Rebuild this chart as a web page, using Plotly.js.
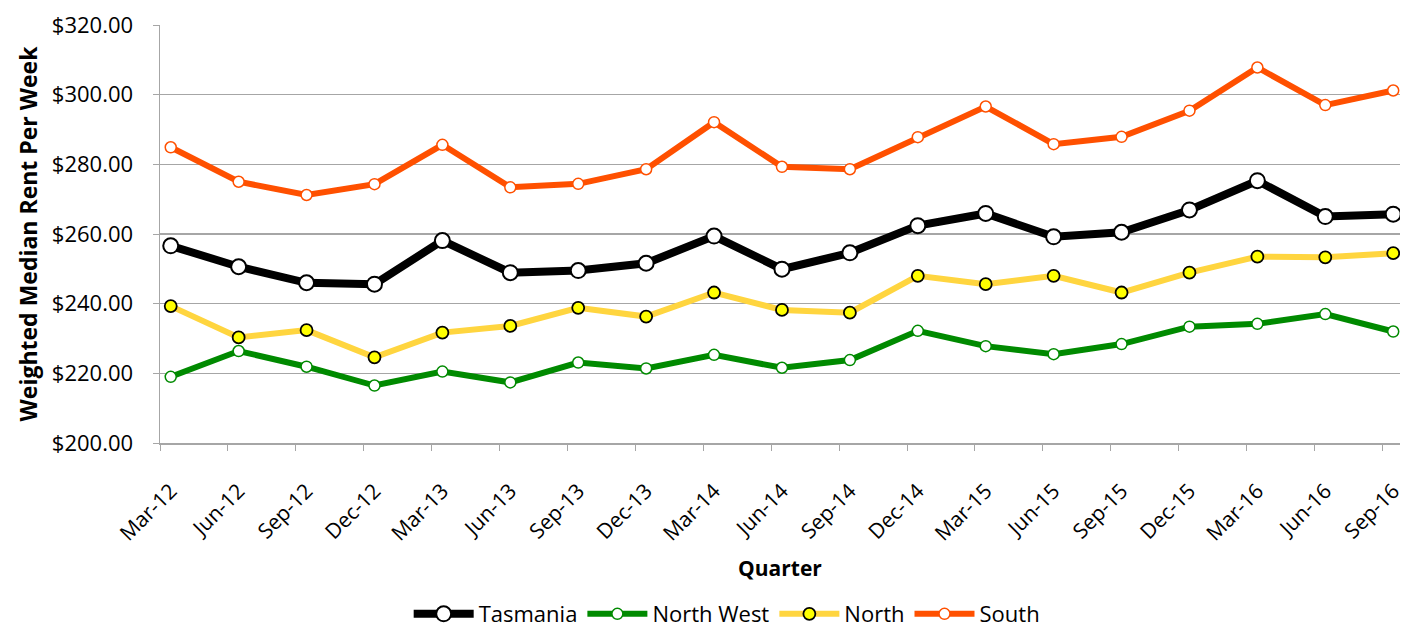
<!DOCTYPE html>
<html><head><meta charset="utf-8">
<script src="https://cdn.plot.ly/plotly-3.0.1.min.js"></script>
<style>html,body{margin:0;padding:0;background:#fff}#chart{width:1403px;height:635px}</style>
</head><body><div id="chart"></div>
<script>
const quarters = ["Mar-12","Jun-12","Sep-12","Dec-12","Mar-13","Jun-13","Sep-13","Dec-13","Mar-14","Jun-14","Sep-14","Dec-14","Mar-15","Jun-15","Sep-15","Dec-15","Mar-16","Jun-16","Sep-16"];
const tasmania = [256.6,250.6,246.0,245.6,258.1,248.9,249.5,251.6,259.4,249.9,254.6,262.4,265.9,259.2,260.5,266.9,275.3,265.0,265.7];
const northWest = [219.0,226.4,221.9,216.5,220.5,217.4,223.1,221.4,225.3,221.6,223.8,232.2,227.8,225.5,228.4,233.4,234.2,237.0,232.0];
const north = [239.3,230.3,232.4,224.6,231.7,233.6,238.8,236.3,243.2,238.2,237.4,248.0,245.6,248.0,243.2,248.9,253.5,253.3,254.5];
const south = [284.9,275.0,271.2,274.3,285.6,273.4,274.4,278.6,292.1,279.3,278.6,287.8,296.6,285.8,287.9,295.4,307.8,297.0,301.2];
const yTicks = [200,220,240,260,280,300,320];

const idx = quarters.map((q,i)=>i);
const font = "Open Sans";

const traces = [
  {name:"Tasmania", y:tasmania, line:{color:"#000000",width:8}, marker:{size:15,color:"#ffffff",line:{color:"#000000",width:2}}},
  {name:"North West", y:northWest, line:{color:"#008A00",width:6}, marker:{size:11,color:"#ffffff",line:{color:"#008A00",width:1.5}}},
  {name:"North", y:north, line:{color:"#FFD53F",width:6}, marker:{size:12,color:"#FFFF00",line:{color:"#000000",width:1.8}}},
  {name:"South", y:south, line:{color:"#FF5000",width:6}, marker:{size:11,color:"#ffffff",line:{color:"#FF5000",width:1.5}}}
].map(t=>Object.assign({x:idx, type:"scatter", mode:"lines+markers"}, t));

const layout = {
  width:1403, height:635,
  margin:{l:160, r:3, t:25, b:192, autoexpand:false},
  paper_bgcolor:"#fff", plot_bgcolor:"#fff",
  font:{family:font, size:21, color:"#000"},
  showlegend:true,
  legend:{orientation:"h", xref:"paper", x:0.457, xanchor:"center", yref:"container", y:0, yanchor:"bottom",
          font:{size:22}, tracegroupgap:0, itemwidth:60},
  xaxis:{
    range:[-0.158, 18.1], tickmode:"array", tickvals:idx, ticktext:quarters, tickangle:-45,
    ticks:"", showgrid:false, zeroline:false, showline:true, linecolor:"#a6a6a6", linewidth:1.5,
    tickfont:{size:21}, automargin:false, ticklabeloverflow:"allow", ticklabelstandoff:26,
    minor:{tick0:-0.158, dtick:1, ticks:"outside", ticklen:6, tickcolor:"#a6a6a6", showgrid:false},
    title:{text:"Quarter", font:{size:21, weight:"bold"}, standoff:16}
  },
  yaxis:{
    range:[200,320], tickmode:"array", tickvals:yTicks, ticktext:yTicks.map(v=>"$"+v.toFixed(2)),
    ticks:"outside", ticklen:6, tickcolor:"#a6a6a6", showgrid:true, gridcolor:"#a6a6a6", gridwidth:1.5,
    zeroline:false, showline:true, linecolor:"#a6a6a6", linewidth:1.5, tickfont:{size:22},
    automargin:false, ticklabelstandoff:15,
    title:{text:"Weighted Median Rent Per Week", font:{size:23, weight:"bold"}, standoff:8}
  }
};
Plotly.newPlot("chart", traces, layout, {displayModeBar:false, staticPlot:true});
</script></body></html>
